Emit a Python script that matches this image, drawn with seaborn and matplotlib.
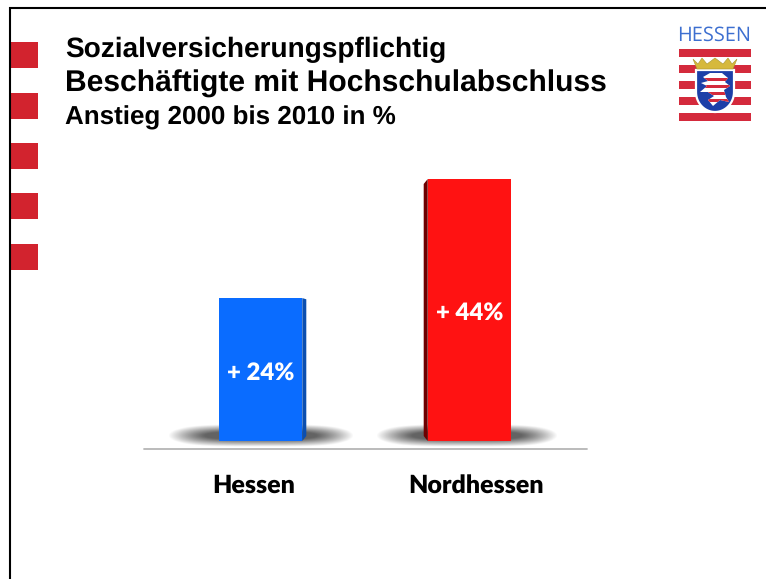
import numpy as np
import pandas as pd
import seaborn as sns
import matplotlib
matplotlib.use('Agg')
import matplotlib.pyplot as plt
from matplotlib.patches import Polygon, Rectangle

# Werte aus der Grafik
regionen = ['Hessen', 'Nordhessen']
anstieg = [24, 44]
farben = ['#0a6cff', '#ff1212']
seiten_farben = ['#0b4fb0', '#6e0000']
werte_text = ['+ 24%', '+ 44%']

W, H = 766, 579
sns.set_theme(style='white')
plt.rcParams['font.family'] = ['Liberation Sans', 'DejaVu Sans']
plt.rcParams['text.hinting'] = 'no_hinting'
plt.rcParams['text.hinting_factor'] = 1

fig = plt.figure(figsize=(W / 100, H / 100), dpi=100, facecolor='white')

# Ebene mit Pixelkoordinaten fuer Rahmen, Titel, Logo
deko = fig.add_axes([0, 0, 1, 1], zorder=0)
deko.set_xlim(0, W)
deko.set_ylim(H, 0)
deko.axis('off')

# Rahmen links und oben
deko.plot([10.3, 10.3], [7, H], color='black', lw=1.5, solid_capstyle='butt')
deko.plot([9.3, W], [8, 8], color='black', lw=1.5, solid_capstyle='butt')

# rote Kaestchen links
for y in [42, 93, 143, 193, 244]:
    deko.add_patch(Rectangle((11, y), 27, 26, color='#d2232e', lw=0))

# Titel
deko.text(65, 57, 'Sozialversicherungspflichtig', fontsize=19.8, fontweight='bold', va='baseline', color='black')
deko.text(65, 92, 'Beschäftigte mit Hochschulabschluss', fontsize=21.35, fontweight='bold', va='baseline', color='black')
deko.text(65, 124, 'Anstieg 2000 bis 2010 in %', fontsize=18.65, fontweight='bold', va='baseline', color='black')

# Schatten unter den Balken
def schatten(x0, x1, y0, y1):
    xx, yy = np.meshgrid(np.linspace(-1, 1, 200), np.linspace(-1, 1, 40))
    a = np.clip(1 - np.sqrt(xx ** 4 + yy ** 2), 0, 1)
    img = np.zeros((40, 200, 4))
    img[..., :3] = 0.36
    img[..., 3] = np.clip(a * 1.5, 0, 0.95)
    deko.imshow(img, extent=(x0, x1, y1, y0), aspect='auto', interpolation='bilinear', zorder=1)

schatten(168, 354, 424, 447)
schatten(376, 558, 424, 447)
deko.set_xlim(0, W)
deko.set_ylim(H, 0)

# Grundlinie
deko.plot([144, 587], [449, 449], color='#b5b5b5', lw=1.3, zorder=2)

# Balken
ax = fig.add_axes([156 / W, 1 - 441 / H, 418 / W, 262 / H], zorder=2)
ax.patch.set_alpha(0)
df = pd.DataFrame({'region': regionen, 'anstieg': anstieg})
sns.barplot(data=df, x='region', y='anstieg', hue='region', palette=farben, width=0.4,
            legend=False, saturation=1, linewidth=0, edgecolor='none', ax=ax)
ax.set_xlim(-0.5, 1.5)
ax.set_ylim(0, 44)
ax.axis('off')

# Seitenflaechen fuer den 3D-Effekt
px = 418 / 2
label_font = ['Lato', 'DejaVu Sans']
for i, bar in enumerate(ax.patches):
    x0, b = bar.get_x(), bar.get_width()
    h = bar.get_height()
    d = 4 / px
    dy = 5 * 44 / 262
    if i == 0:
        pts = [(x0 + b, 0), (x0 + b + d, dy), (x0 + b + d, h - 0.2), (x0 + b, h)]
    else:
        pts = [(x0, 0), (x0 - d, dy), (x0 - d, h - dy), (x0, h)]
    ax.add_patch(Polygon(pts, closed=True, color=seiten_farben[i], lw=0, clip_on=False))
    ax.text(i, h - (320 - 179) * 44 / 262 if i else h - (380 - 298) * 44 / 262, werte_text[i],
            color='white', family=label_font, fontweight='heavy', fontsize=17,
            ha='center', va='baseline')

# Kategorien
deko.text(254, 493, regionen[0], family=label_font, fontweight='heavy', fontsize=18,
          ha='center', va='baseline', color='black')
deko.text(476, 493, regionen[1], family=label_font, fontweight='heavy', fontsize=18,
          ha='center', va='baseline', color='black')

# Logo oben rechts
deko.text(714.5, 41, 'HESSEN', family=['Open Sans', 'DejaVu Sans'], fontsize=14.3, color='#3d6fd0',
          ha='center', va='baseline')
for y in [49, 65, 81, 97, 113]:
    deko.add_patch(Rectangle((679, y), 72, 8, color='#d42a3c', lw=0, zorder=3))
# Wappenschild
t = np.linspace(0, np.pi, 40)
schild = [(696, 70), (734, 70)] + [(715 + 19 * np.cos(a), 92 + 20 * np.sin(a)) for a in t]
deko.add_patch(Polygon(schild, closed=True, facecolor='#1d3fa8', edgecolor='white', lw=1.6, zorder=4))
# Krone
krone = [(693, 59), (698, 64), (702, 58), (707, 64), (715, 58), (723, 64), (728, 58), (732, 64), (737, 59), (733, 69), (697, 69)]
deko.add_patch(Polygon(krone, closed=True, facecolor='#d6b93c', edgecolor='#a89530', lw=0.4, zorder=5))
# Loewe, stark vereinfacht
loewe = Polygon([(703, 77), (710, 73), (722, 73), (728, 78), (725, 82), (730, 86), (724, 90), (726, 97),
                 (729, 102), (720, 100), (713, 106), (708, 100), (714, 96), (708, 92), (700, 92),
                 (707, 86), (701, 83), (708, 81)], closed=True, facecolor='white', lw=0, zorder=5)
deko.add_patch(loewe)
for y in [78, 85, 92, 99]:
    streifen = Rectangle((698, y), 34, 3, color='#d42a3c', lw=0, zorder=6)
    deko.add_patch(streifen)
    streifen.set_clip_path(loewe)

fig.savefig('out.png', dpi=100)
